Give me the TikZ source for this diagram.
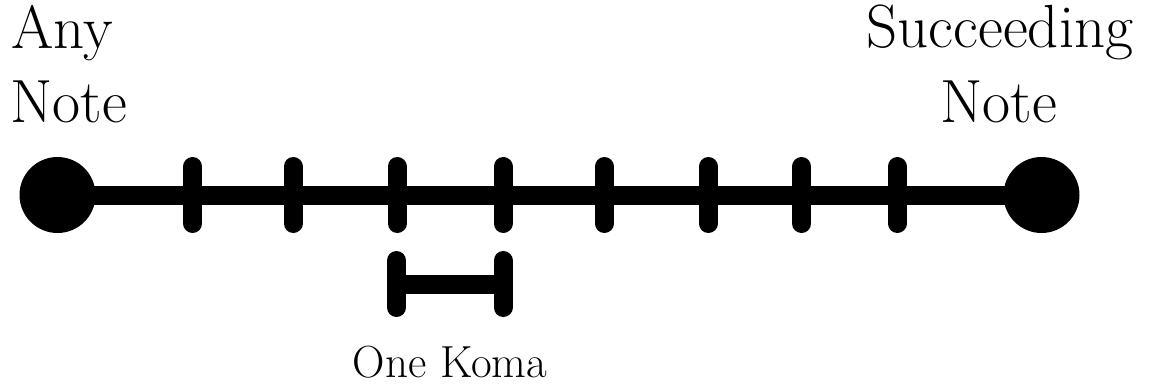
\documentclass[tikz,border=0pt]{standalone}
\begin{document}
\begin{tikzpicture}[x=1pt,y=-1pt,
  bigtext/.style={inner sep=0pt,font=\fontsize{61}{74}\selectfont},
  smalltext/.style={inner sep=0pt,font=\fontsize{45}{50}\selectfont},
  note/.style={circle,fill=black,inner sep=0pt,minimum size=76pt},
  bar/.style={line width=19pt},
  tickline/.style={line width=19pt,line cap=round}]
\useasboundingbox (0,0) rectangle (1149,386);

% end notes
\node[note] (any) at (57.5,195) {};
\node[note] (succ) at (1041.5,195) {};
\draw[bar] (any.center) -- (succ.center);

% ticks dividing the interval
\foreach \i/\x in {1/192.7,2/293,3/397,4/503,5/604.3,6/708.3,7/801.7,8/897.3}{
  \coordinate (t\i) at (\x,195);
  \draw[tickline] ([yshift=-28.5pt]t\i) -- ([yshift=28.5pt]t\i);
}

% one koma marker
\coordinate (kl) at (396.5,284);
\coordinate (kr) at (503,284);
\draw[tickline] ([yshift=-23.5pt]kl) -- ([yshift=23.5pt]kl);
\draw[tickline] ([yshift=-23.5pt]kr) -- ([yshift=23.5pt]kr);
\draw[bar] (kl) -- (kr);

% labels
\node[bigtext,anchor=base west] (any1) at (11,48) {Any};
\node[bigtext,anchor=base west] (any2) at (10,122) {Note};
\node[bigtext,anchor=base] (succ1) at (1000,47) {Succeeding};
\node[bigtext,anchor=base] (succ2) at (999,122) {Note};
\node[smalltext,anchor=base] (koma) at (450,377) {One Koma};
\end{tikzpicture}
\end{document}
